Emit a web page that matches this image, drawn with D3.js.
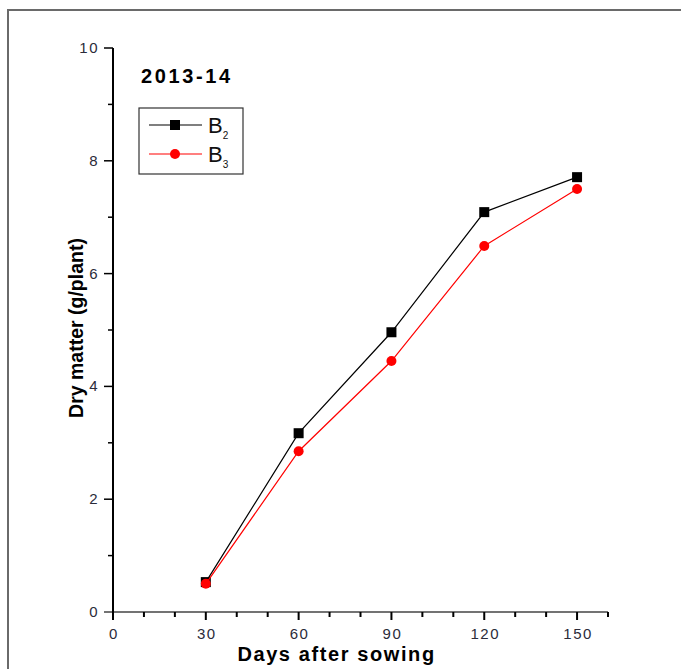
<!DOCTYPE html>
<html>
<head>
<meta charset="UTF-8" />
<script src="https://d3js.org/d3.v7.min.js"></script>
<style>
  body { margin: 0; background: #fff; }
  svg text { font-family: "Liberation Sans", Arial, sans-serif; }
</style>
</head>
<body>
<svg width="681" height="669"></svg>
<script>
// values
var days = [30, 60, 90, 120, 150];
var b2 = [0.53, 3.17, 4.96, 7.09, 7.71];
var b3 = [0.50, 2.85, 4.45, 6.49, 7.50];
var xTicks = [0, 30, 60, 90, 120, 150];
var yTicks = [0, 2, 4, 6, 8, 10];

var svg = d3.select("svg");

// outer frame (left + top only visible)
svg.append("path")
  .attr("d", "M8,669 L8,10 L681,10")
  .attr("fill", "none").attr("stroke", "#6a6a6a").attr("stroke-width", 2);

var x = d3.scaleLinear().domain([0, 160]).range([113, 608]);
var y = d3.scaleLinear().domain([0, 10]).range([612, 48]);

// x axis
var gx = svg.append("g").attr("transform", "translate(0,612)");
gx.append("line").attr("x1", x(0) - 9).attr("x2", x(160))
  .attr("stroke", "#444").attr("stroke-width", 1.5);
gx.selectAll("line.minor").data(d3.range(0, 161, 10)).enter().append("line")
  .attr("x1", d => x(d)).attr("x2", d => x(d))
  .attr("y1", 0).attr("y2", d => d % 30 === 0 ? 8 : 5)
  .attr("stroke", "#000").attr("stroke-width", 2);
gx.selectAll("text").data(xTicks).enter().append("text")
  .attr("x", d => x(d) + 1).attr("y", 27)
  .attr("text-anchor", "middle")
  .attr("fill", "#2b2b3a").attr("font-size", 15).attr("letter-spacing", 1.5)
  .text(d => d);

// y axis
var gy = svg.append("g").attr("transform", "translate(113,0)");
gy.append("line").attr("y1", y(10)).attr("y2", y(0) + 8)
  .attr("stroke", "#000").attr("stroke-width", 2);
gy.selectAll("line.minor").data(d3.range(1, 10, 2)).enter().append("line")
  .attr("y1", d => y(d)).attr("y2", d => y(d))
  .attr("x1", 0).attr("x2", -5)
  .attr("stroke", "#000").attr("stroke-width", 1.5);
gy.selectAll("line.major").data(yTicks.slice(1)).enter().append("line")
  .attr("y1", d => y(d)).attr("y2", d => y(d))
  .attr("x1", 0).attr("x2", -9)
  .attr("stroke", "#000").attr("stroke-width", 1.5);
gy.selectAll("text").data(yTicks).enter().append("text")
  .attr("x", -14).attr("y", d => y(d) + 5)
  .attr("text-anchor", "end")
  .attr("fill", "#2b2b3a").attr("font-size", 15).attr("letter-spacing", 1.5)
  .text(d => d);

// axis titles
svg.append("text").attr("x", x(70) + 7).attr("y", 661)
  .attr("text-anchor", "middle").attr("font-weight", "bold").attr("font-size", 20)
  .attr("letter-spacing", 1.6)
  .text("Days after sowing");
svg.append("text")
  .attr("transform", "translate(83," + (y(5) - 2) + ") rotate(-90)")
  .attr("text-anchor", "middle").attr("font-weight", "bold").attr("font-size", 19.5)
  .text("Dry matter (g/plant)");

// series
var series = [
  { name: "2", vals: b2, color: "#000", shape: "square" },
  { name: "3", vals: b3, color: "#ff0000", shape: "circle" }
];
var line = d3.line().x((d, i) => x(days[i])).y(d => y(d));

series.forEach(function (s) {
  svg.append("path").attr("d", line(s.vals))
    .attr("fill", "none").attr("stroke", s.color).attr("stroke-width", 1.2);
  var g = svg.append("g");
  if (s.shape === "square") {
    g.selectAll("rect").data(s.vals).enter().append("rect")
      .attr("x", (d, i) => x(days[i]) - 5).attr("y", d => y(d) - 5)
      .attr("width", 10).attr("height", 10).attr("fill", s.color);
  } else {
    g.selectAll("circle").data(s.vals).enter().append("circle")
      .attr("cx", (d, i) => x(days[i])).attr("cy", d => y(d))
      .attr("r", 5).attr("fill", s.color);
  }
});

// title
svg.append("text").attr("x", 141).attr("y", 83)
  .attr("font-weight", "bold").attr("font-size", 20).attr("letter-spacing", 2.6)
  .text("2013-14");

// legend
svg.append("rect").attr("x", 139).attr("y", 108).attr("width", 104).attr("height", 66)
  .attr("fill", "#fff").attr("stroke", "#333").attr("stroke-width", 1.2);
series.forEach(function (s, i) {
  var ly = 125 + i * 29;
  svg.append("line").attr("x1", 149).attr("x2", 202).attr("y1", ly).attr("y2", ly)
    .attr("stroke", s.color).attr("stroke-width", 1.2);
  if (s.shape === "square") {
    svg.append("rect").attr("x", 170).attr("y", ly - 5).attr("width", 10).attr("height", 10)
      .attr("fill", s.color);
  } else {
    svg.append("circle").attr("cx", 175).attr("cy", ly).attr("r", 5).attr("fill", s.color);
  }
  var t = svg.append("text").attr("x", 208).attr("y", ly + 8).attr("font-size", 22).attr("fill", "#111");
  t.append("tspan").text("B");
  t.append("tspan").attr("font-size", 10).attr("dy", 6).text(s.name);
});
</script>
</body>
</html>
